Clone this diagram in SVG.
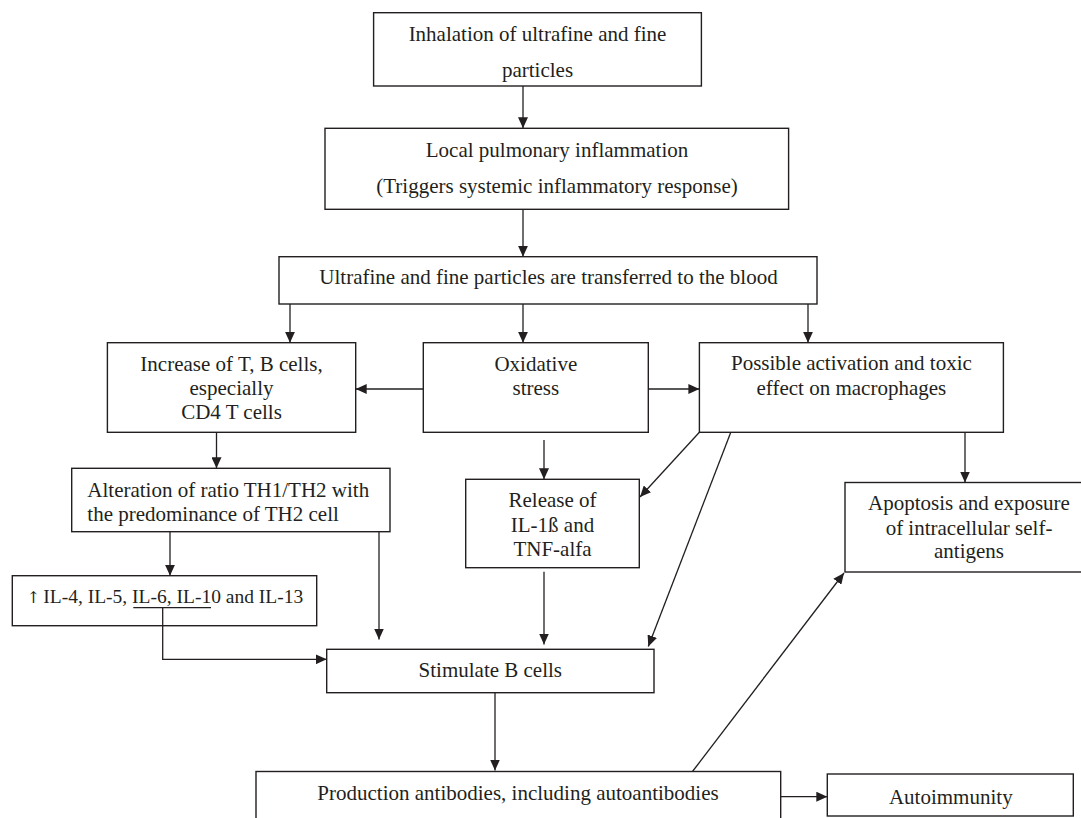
<svg xmlns="http://www.w3.org/2000/svg" width="1081" height="818" viewBox="0 0 1081 818">
<style>
  .box { fill: #ffffff; stroke: #231f20; stroke-width: 1.4; }
  .t { font-family: "Liberation Serif", "Times New Roman", serif; font-size: 21px; fill: #231f20; }
  .c { text-anchor: middle; }
  .ln { fill: none; stroke: #231f20; stroke-width: 1.3; }
  .arr { marker-end: url(#ah); }
</style>
<defs>
  <marker id="ah" markerUnits="userSpaceOnUse" markerWidth="12" markerHeight="10" refX="11" refY="5" orient="auto">
    <path d="M0,0 L11,5 L0,10 z" fill="#231f20"/>
  </marker>
</defs>
<rect width="1081" height="818" fill="#ffffff"/>

<g id="n-inhalation">
  <rect class="box" x="373.6" y="12.7" width="327.8" height="73.3"/>
  <text class="t c" x="537.5" y="40.7">Inhalation of ultrafine and fine</text>
  <text class="t c" x="537.5" y="77">particles</text>
</g>
<g id="n-local">
  <rect class="box" x="325" y="128.3" width="463.6" height="81"/>
  <text class="t c" x="557" y="156.7">Local pulmonary inflammation</text>
  <text class="t c" x="557" y="192.7">(Triggers systemic inflammatory response)</text>
</g>
<g id="n-blood">
  <rect class="box" x="279" y="256.7" width="538" height="47.3"/>
  <text class="t c" x="548.5" y="284">Ultrafine and fine particles are transferred to the blood</text>
</g>
<g id="n-increase">
  <rect class="box" x="107.4" y="342.7" width="248.3" height="89.6"/>
  <text class="t c" x="231.5" y="371">Increase of T, B cells,</text>
  <text class="t c" x="231.5" y="394.5">especially</text>
  <text class="t c" x="231.5" y="419">CD4 T cells</text>
</g>
<g id="n-oxidative">
  <rect class="box" x="423.3" y="342.7" width="225" height="89.6"/>
  <text class="t c" x="535.8" y="370.7">Oxidative</text>
  <text class="t c" x="535.8" y="395">stress</text>
</g>
<g id="n-macrophages">
  <rect class="box" x="699.4" y="342.7" width="304" height="89.6"/>
  <text class="t c" x="851.4" y="370">Possible activation and toxic</text>
  <text class="t c" x="851.4" y="395">effect on macrophages</text>
</g>
<g id="n-alteration">
  <rect class="box" x="71.7" y="468.3" width="318.3" height="63.4"/>
  <text class="t" x="87.3" y="496.7">Alteration of ratio TH1/TH2 with</text>
  <text class="t" x="87.3" y="520.7">the predominance of TH2 cell</text>
</g>
<g id="n-il">
  <rect class="box" x="12.3" y="575.7" width="304.4" height="50"/>
  <text class="t" x="26.7" y="603.3" style="font-size:19.5px"><tspan style="font-family:'DejaVu Serif','Liberation Serif',serif;font-size:16px">↑</tspan><tspan x="43.3">IL-4, IL-5, IL-6, IL-10 and IL-13</tspan></text>
  <line x1="133.3" y1="607.7" x2="211" y2="607.7" stroke="#231f20" stroke-width="1.3"/>
</g>
<g id="n-release">
  <rect class="box" x="465.7" y="479.3" width="173.6" height="88.4"/>
  <text class="t c" x="552.5" y="507.3">Release of</text>
  <text class="t c" x="552.5" y="531.7">IL-1ß and</text>
  <text class="t c" x="552.5" y="556">TNF-alfa</text>
</g>
<g id="n-apoptosis">
  <rect class="box" x="845" y="482.5" width="240" height="89.5"/>
  <text class="t c" x="969" y="510">Apoptosis and exposure</text>
  <text class="t c" x="969" y="535">of intracellular self-</text>
  <text class="t c" x="969" y="558.3">antigens</text>
</g>
<g id="n-stimulate">
  <rect class="box" x="326.7" y="649.3" width="327.3" height="43.4"/>
  <text class="t c" x="490.3" y="677.3">Stimulate B cells</text>
</g>
<g id="n-production">
  <rect class="box" x="256" y="771.5" width="524.7" height="60"/>
  <text class="t c" x="518" y="800">Production antibodies, including autoantibodies</text>
</g>
<g id="n-autoimmunity">
  <rect class="box" x="827.3" y="774" width="246" height="42"/>
  <text class="t c" x="950.8" y="804">Autoimmunity</text>
</g>

<g id="connectors">
  <line class="ln arr" x1="523" y1="86" x2="523" y2="128.3"/>
  <line class="ln arr" x1="523" y1="209.3" x2="523" y2="256.7"/>
  <line class="ln arr" x1="290" y1="304" x2="290" y2="342.7"/>
  <line class="ln arr" x1="523" y1="304" x2="523" y2="342.7"/>
  <line class="ln arr" x1="808" y1="304" x2="808" y2="342.7"/>
  <line class="ln arr" x1="423.3" y1="389" x2="355.7" y2="389"/>
  <line class="ln arr" x1="648.3" y1="389" x2="699.4" y2="389"/>
  <line class="ln arr" x1="216.5" y1="432.3" x2="216.5" y2="468.3"/>
  <line class="ln arr" x1="170" y1="531.7" x2="170" y2="575.7"/>
  <line class="ln arr" x1="544" y1="440" x2="544" y2="479.3"/>
  <line class="ln arr" x1="699.4" y1="432.3" x2="640" y2="497"/>
  <line class="ln arr" x1="965" y1="432.3" x2="965" y2="482.5"/>
  <line class="ln arr" x1="730.8" y1="432.3" x2="648.3" y2="646.5"/>
  <polyline class="ln arr" points="162.7,607.7 162.7,659.3 326.7,659.3"/>
  <line class="ln arr" x1="379" y1="531.7" x2="379" y2="639.5"/>
  <line class="ln arr" x1="544" y1="571.7" x2="544" y2="644.5"/>
  <line class="ln arr" x1="495" y1="692.7" x2="495" y2="770.5"/>
  <line class="ln arr" x1="692.5" y1="771.5" x2="844" y2="573"/>
  <line class="ln arr" x1="780.7" y1="796.7" x2="827.3" y2="796.7"/>
</g>
</svg>
